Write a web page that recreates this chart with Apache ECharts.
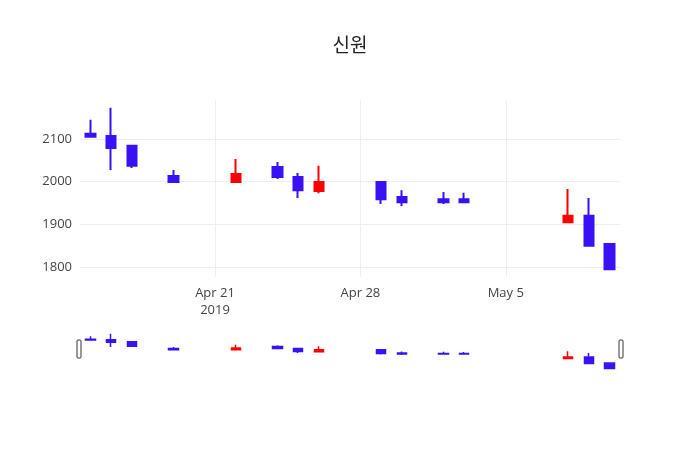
<!DOCTYPE html>
<html><head><meta charset="utf-8">
<script src="https://cdn.jsdelivr.net/npm/echarts@6/dist/echarts.min.js"></script>
<style>html,body{margin:0;padding:0;background:#fff}#c{width:700px;height:450px}</style>
</head><body><div id="c"></div>
<script>
// day offsets relative to 2019-04-21
const days = [-6,-5,-4,-2,1,3,4,5,8,9,11,12,17,18,19];
const opens  = [2112,2107,2084,2013,1999,2034,2011,1978,1999,1964,1959,1959,1905,1920,1854];
const closes = [2105,2079,2037,1999,2018,2011,1980,1999,1959,1952,1952,1952,1920,1850,1795];
const lows   = [2105,2027,2032,1999,1999,2006,1962,1973,1948,1943,1948,1950,1905,1848,1795];
const highs  = [2145,2173,2084,2027,2053,2046,2020,2037,1999,1980,1976,1974,1983,1962,1854];
const xTicks = [0,7,14];
const xTickLabels = ['Apr 21\n2019','Apr 28','May 5'];
const yTicks = [1800,1900,2000,2100];

const data = days.map((d,i)=>[d,opens[i],closes[i],lows[i],highs[i]]);
const up='#ff0000', down='#3a10f5';
const style={color:up,color0:down,borderColor:up,borderColor0:down,borderWidth:2};
const chart=echarts.init(document.getElementById('c'));
chart.setOption({
  animation:false,
  title:{text:'신원',left:'center',top:30,textStyle:{fontFamily:'Noto Sans CJK KR',fontSize:19,fontWeight:'normal',color:'#222'}},
  grid:[{left:80,right:80,top:100,height:177},{left:80,right:80,top:333,height:36}],
  xAxis:[
    {type:'value',gridIndex:0,min:-6.5,max:19.5,axisLine:{show:false},axisTick:{show:false,customValues:xTicks},
     splitLine:{show:true,lineStyle:{color:'#eee'}},
     axisLabel:{customValues:xTicks,formatter:v=>xTickLabels[xTicks.indexOf(v)],color:'#444',fontSize:13,fontFamily:'Open Sans',lineHeight:17}},
    {type:'value',gridIndex:1,min:-6.5,max:19.5,show:false}
  ],
  yAxis:[
    {type:'value',gridIndex:0,min:1777,max:2191,axisLine:{show:false},axisTick:{show:false,customValues:yTicks},
     splitLine:{show:true,lineStyle:{color:'#eee'}},
     axisLabel:{customValues:yTicks,formatter:v=>String(v),color:'#444',fontSize:13,fontFamily:'Open Sans'}},
    {type:'value',gridIndex:1,min:1790,max:2180,show:false}
  ],
  series:[
    {type:'candlestick',xAxisIndex:0,yAxisIndex:0,data:data,barWidth:10,itemStyle:style},
    {type:'candlestick',xAxisIndex:1,yAxisIndex:1,data:data,barWidth:10,itemStyle:{...style,borderWidth:1.5}}
  ],
  graphic:[
    {type:'rect',shape:{x:77,y:340,width:4,height:18,r:1},style:{fill:'#fff',stroke:'#333',lineWidth:1}},
    {type:'rect',shape:{x:619,y:340,width:4,height:18,r:1},style:{fill:'#fff',stroke:'#333',lineWidth:1}}
  ]
});
</script></body></html>
